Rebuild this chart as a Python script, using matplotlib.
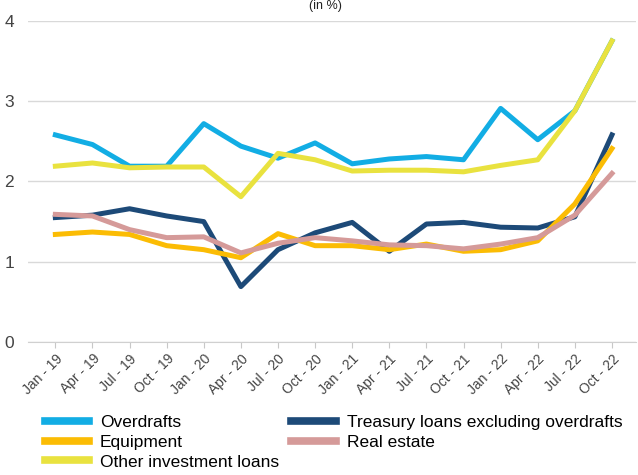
import numpy as np
import matplotlib
matplotlib.use("Agg")
import matplotlib.pyplot as plt

plt.rcParams['font.family'] = ['Liberation Sans', 'DejaVu Sans']

# Quarterly labels
quarters = ["Jan - 19", "Apr - 19", "Jul - 19", "Oct - 19",
            "Jan - 20", "Apr - 20", "Jul - 20", "Oct - 20",
            "Jan - 21", "Apr - 21", "Jul - 21", "Oct - 21",
            "Jan - 22", "Apr - 22", "Jul - 22", "Oct - 22"]

# Series values
overdrafts = [2.58, 2.46, 2.19, 2.19, 2.72, 2.44, 2.29, 2.48,
              2.22, 2.28, 2.31, 2.27, 2.91, 2.52, 2.88, 3.75]
treasury = [1.55, 1.58, 1.66, 1.57, 1.50, 0.69, 1.15, 1.36,
            1.49, 1.13, 1.47, 1.49, 1.43, 1.42, 1.56, 2.58]
equipment = [1.34, 1.37, 1.34, 1.20, 1.15, 1.05, 1.35, 1.20,
             1.20, 1.15, 1.22, 1.13, 1.15, 1.26, 1.72, 2.41]
real_estate = [1.59, 1.57, 1.40, 1.30, 1.31, 1.11, 1.23, 1.30,
               1.26, 1.21, 1.20, 1.16, 1.22, 1.30, 1.58, 2.10]
other_invest = [2.19, 2.23, 2.17, 2.18, 2.18, 1.81, 2.35, 2.27,
                2.13, 2.14, 2.14, 2.12, 2.20, 2.27, 2.88, 3.75]

x = np.arange(len(quarters))

fig = plt.figure(figsize=(6.38, 4.75), dpi=100)
ax = fig.add_axes([0.044, 0.28, 0.953, 0.676])

lw = 3.6
l_over, = ax.plot(x, overdrafts, color="#12ade4", lw=lw, zorder=3, label="Overdrafts")
l_treas, = ax.plot(x, treasury, color="#1d4a78", lw=lw, zorder=4, label="Treasury loans excluding overdrafts")
l_equip, = ax.plot(x, equipment, color="#fbbc04", lw=lw, zorder=5, label="Equipment")
l_real, = ax.plot(x, real_estate, color="#d59a99", lw=lw, zorder=6, label="Real estate")
l_other, = ax.plot(x, other_invest, color="#e9e23f", lw=lw, zorder=7, label="Other investment loans")

ax.set_xlim(-0.735, 15.65)
ax.set_ylim(0, 4)
ax.set_yticks([0, 1, 2, 3, 4])
ax.yaxis.grid(True, color="#d9d9d9", lw=1)
ax.set_axisbelow(True)
for s in ["top", "right", "left"]:
    ax.spines[s].set_visible(False)
ax.spines["bottom"].set_color("#d0d0d0")
ax.tick_params(axis="y", length=0, labelsize=12.5, labelcolor="#444444", pad=10)
ax.set_xticks(x)
ax.set_xticklabels(quarters, rotation=45, ha="right", rotation_mode="anchor",
                   fontsize=10, color="#444444")
ax.tick_params(axis="x", length=4, color="#c8c8c8", pad=3)

# title line sits right at the top edge in the source
fig.text(0.51, 0.999, "(in %)", ha="center", va="top", fontsize=9, color="#222222")

handles = [l_over, l_equip, l_other, l_treas, l_real]
fig.legend(handles=handles, labels=[h.get_label() for h in handles],
           loc="upper left", bbox_to_anchor=(0.07, 0.127), ncol=2, frameon=False,
           fontsize=12.5, handlelength=2.55, handletextpad=0.64, columnspacing=0.7,
           labelspacing=0.27, borderaxespad=0, borderpad=0)
for h in fig.legends[0].get_lines():
    h.set_linewidth(5.5)

fig.savefig("out.png", dpi=100)
